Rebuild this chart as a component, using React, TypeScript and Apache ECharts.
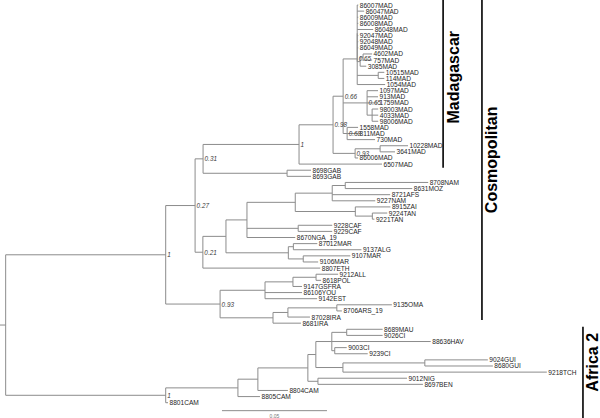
import React, { useEffect, useRef } from "react";
import * as echarts from "echarts";

// Phylogenetic tree, built from small Newick pieces
// (branch lengths in substitutions/site, internal labels = support values)
const madTop =
  "(86007MAD:0.0005,86047MAD:0.0033,86009MAD:0.0005,86008MAD:0.0005,86048MAD:0.0076,92047MAD:0.0005,92048MAD:0.0005,86049MAD:0.0005," +
  "((4602MAD:0.0043,757MAD:0.0043):0.0014,3085MAD:0.0029):0.0014)";
const madClade065a = `(${madTop}:0,(10515MAD:0.0029,114MAD:0.0029):0.0100,1054MAD:0.0133)0.65`;
const madClade065b =
  "(1097MAD:0.0052,913MAD:0.0052,1759MAD:0.0052,(98003MAD:0.0029,4033MAD:0.0029,98006MAD:0.0029):0.0024)0.65";
const madClade068 = "(1558MAD:0.0052,811MAD:0.0052,730MAD:0.0133)0.68";
const madClade066 = `(${madClade065a}:0.0067,${madClade065b}:0.0114,${madClade068}:0.0019)0.66`;
const madClade093 = "((10228MAD:0.0133,3641MAD:0.0071):0.0119,86006MAD:0.0014)0.93";
const madClade098 = `(${madClade066}:0.0048,${madClade093}:0.0105)0.98`;
const madagascar = `(${madClade098}:0.0162,6507MAD:0.0395)1`;
const gabon = "(8698GAB:0.0114,8693GAB:0.0114)";
const clade031 = `(${madagascar}:0.0457,${gabon}:0.0400)0.31`;
const southern =
  "(((8708NAM:0.0395,8631MOZ:0.0319):0.0062,8721AFS:0.0276,9227NAM:0.0205):0.0176," +
  "(8915ZAI:0.0167,(9224TAN:0.0071,9221TAN:0.0010):0.0081):0.0286)";
const central = `(${southern}:0.0230,(9228CAF:0.0162,9229CAF:0.0162):0.0244,8670NGA_19:0.0230)`;
const northern = "((87012MAR:0.0114,9137ALG:0.0324):0.0024,(9107MAR:0.0224,9106MAR:0.0071):0.0071)";
const africaMix = `(${central}:0.0100,${northern}:0.0297)`;
const clade021 = `(${africaMix}:0.0110,8807ETH:0.0559)0.21`;
const clade027 = `(${clade031}:0.0038,${clade021}:0.0037)0.27`;
const europe =
  "(((9212ALL:0.0105,8618POL:0.0024):0.0110,9147GSFRA:0.0043):0.0133,86106YOU:0.0176,9142EST:0.0248)";
const asia = "(((9135OMA:0.0262,8706ARS_19:0.0024):0.0233,87028IRA:0.0105):0.0071,8681IRA:0.0133)";
const clade093 = `(${europe}:0.0214,${asia}:0.0252)0.93`;
const cosmopolitan = `(${clade027}:0.0140,${clade093}:0.0259)1`;
const westA =
  "((8689MAU:0.0171,9026CI:0.0171):0.0071,88636HAV:0.0471,(9003CI:0.0057,9239CI:0.0157):0.0014)";
const westB = "((9024GUI:0.0300,8680GUI:0.0324):0.0390,9218TCH:0.0971)";
const westC = `((${westA}:0.0076,${westB}:0.0129):0.0038,(9012NIG:0.0424,8697BEN:0.0500):0.0048)`;
const africa2 = `((${westC}:0.0238,8804CAM:0.0143):0.0095,8805CAM:0.0105)`;
const africa2Cam = `(${africa2}:0.0344,8801CAM:0.0011)1`;
const treeNewick = `(${cosmopolitan}:0.0762,${africa2Cam}:0.0762):0.0027;`;

// Scale bar
const scaleBarStart = [0.1057];
const scaleBarLength = [0.05];
const scaleBarLabel = ["0.05"];

// Clade annotations (leaf-row range and bar position in tree units)
const cladeNames = ["Madagascar", "Cosmopolitan", "Africa 2"];
const cladeTop = [-0.82, -0.82, 52.6];
const cladeBottom = [26.6, 51.5, 67.5];
const cladeBarX = [0.211, 0.2295, 0.2776];
const cladeLabelRow = [11.8, 25.3, 58.4];

type TNode = { name: string; len: number; children: TNode[]; depth: number; y: number };

function parseNewick(s: string): TNode {
  const str = s.replace(/\s+/g, "");
  let i = 0;
  function parseNode(): TNode {
    const node: TNode = { name: "", len: 0, children: [], depth: 0, y: 0 };
    if (str[i] === "(") {
      i++;
      node.children.push(parseNode());
      while (str[i] === ",") {
        i++;
        node.children.push(parseNode());
      }
      i++;
    }
    let name = "";
    while (i < str.length && !",():;".includes(str[i])) name += str[i++];
    node.name = name;
    if (str[i] === ":") {
      i++;
      let num = "";
      while (i < str.length && !",();".includes(str[i])) num += str[i++];
      node.len = parseFloat(num);
    }
    return node;
  }
  return parseNode();
}

function layoutTree(root: TNode) {
  const segs: number[][] = [];
  const leaves: { x: number; y: number; name: string }[] = [];
  const supports: { x: number; y: number; text: string }[] = [];
  let leafIdx = 0;
  function walk(n: TNode, parentDepth: number) {
    n.depth = parentDepth + n.len;
    if (n.children.length === 0) {
      n.y = leafIdx++;
      leaves.push({ x: n.depth, y: n.y, name: n.name });
    } else {
      n.children.forEach((c) => walk(c, n.depth));
      const first = n.children[0];
      const last = n.children[n.children.length - 1];
      n.y = (first.y + last.y) / 2;
      segs.push([n.depth, first.y, n.depth, last.y]);
      if (n.name) supports.push({ x: n.depth, y: n.y, text: n.name });
    }
    if (n.len > 0 || parentDepth === 0) segs.push([parentDepth, n.y, n.depth, n.y]);
  }
  walk(root, 0);
  return { segs, leaves, supports };
}

const FONT = '"Liberation Sans", Arial, Helvetica, sans-serif';

export default function App() {
  const ref = useRef<HTMLDivElement>(null);
  useEffect(() => {
    document.body.style.margin = "0";
    if (!ref.current) return;
    const chart = echarts.init(ref.current, undefined, { renderer: "svg" });
    const { segs, leaves, supports } = layoutTree(parseNewick(treeNewick));

    const scaleSegs = scaleBarStart.map((s, k) => [s, 66.3, s + scaleBarLength[k], 66.3]);

    chart.setOption({
      animation: false,
      grid: { left: 0, right: 0, top: 0, bottom: 0 },
      xAxis: { type: "value", min: 0, max: 0.285714, show: false },
      yAxis: { type: "value", inverse: true, min: -0.82, max: 67.5, show: false },
      series: [
        {
          type: "custom",
          coordinateSystem: "cartesian2d",
          silent: true,
          data: segs.concat(scaleSegs),
          renderItem: (params: any, api: any) => {
            const p1 = api.coord([api.value(0), api.value(1)]);
            const p2 = api.coord([api.value(2), api.value(3)]);
            return {
              type: "line",
              shape: { x1: p1[0], y1: p1[1], x2: p2[0], y2: p2[1] },
              style: { stroke: "#8c8c8c", lineWidth: 1 },
            };
          },
        },
        {
          type: "custom",
          coordinateSystem: "cartesian2d",
          silent: true,
          data: leaves.map((l) => [l.x, l.y]),
          renderItem: (params: any, api: any) => {
            const p = api.coord([api.value(0), api.value(1)]);
            return {
              type: "text",
              x: p[0] + 1.5,
              y: p[1],
              style: {
                text: leaves[params.dataIndex].name,
                fill: "#1e1e1e",
                font: `6.6px ${FONT}`,
                textAlign: "left",
                textVerticalAlign: "middle",
                align: "left",
                verticalAlign: "middle",
              },
            };
          },
        },
        {
          type: "custom",
          coordinateSystem: "cartesian2d",
          silent: true,
          data: supports.map((s) => [s.x, s.y]),
          renderItem: (params: any, api: any) => {
            const p = api.coord([api.value(0), api.value(1)]);
            return {
              type: "text",
              x: p[0] + 1.5,
              y: p[1],
              style: {
                text: supports[params.dataIndex].text,
                fill: "#3a3a3a",
                font: `italic 6.4px ${FONT}`,
                textAlign: "left",
                textVerticalAlign: "middle",
                align: "left",
                verticalAlign: "middle",
              },
            };
          },
        },
        {
          type: "custom",
          coordinateSystem: "cartesian2d",
          silent: true,
          data: scaleBarStart.map((s, k) => [s + scaleBarLength[k] / 2, 67.2]),
          renderItem: (params: any, api: any) => {
            const p = api.coord([api.value(0), api.value(1)]);
            return {
              type: "text",
              x: p[0],
              y: p[1],
              style: {
                text: scaleBarLabel[params.dataIndex],
                fill: "#777",
                font: `5px ${FONT}`,
                textAlign: "center",
                textVerticalAlign: "middle",
                align: "center",
                verticalAlign: "middle",
              },
            };
          },
        },
        {
          type: "custom",
          coordinateSystem: "cartesian2d",
          silent: true,
          data: cladeNames.map((_, k) => [cladeBarX[k], cladeTop[k], cladeBottom[k], cladeLabelRow[k]]),
          renderItem: (params: any, api: any) => {
            const k = params.dataIndex;
            const top = api.coord([api.value(0), api.value(1)]);
            const bot = api.coord([api.value(0), api.value(2)]);
            const mid = api.coord([api.value(0), api.value(3)]);
            return {
              type: "group",
              children: [
                {
                  type: "line",
                  shape: { x1: top[0], y1: top[1], x2: bot[0], y2: bot[1] },
                  style: { stroke: "#000", lineWidth: 1.6 },
                },
                {
                  type: "text",
                  x: mid[0] + 10,
                  y: mid[1],
                  rotation: Math.PI / 2,
                  style: {
                    text: cladeNames[k],
                    fill: "#000",
                    font: `bold 16px ${FONT}`,
                    textAlign: "center",
                    textVerticalAlign: "middle",
                    align: "center",
                    verticalAlign: "middle",
                  },
                },
              ],
            };
          },
        },
      ],
    });
    return () => chart.dispose();
  }, []);
  return <div ref={ref} style={{ width: 600, height: 418 }} />;
}
